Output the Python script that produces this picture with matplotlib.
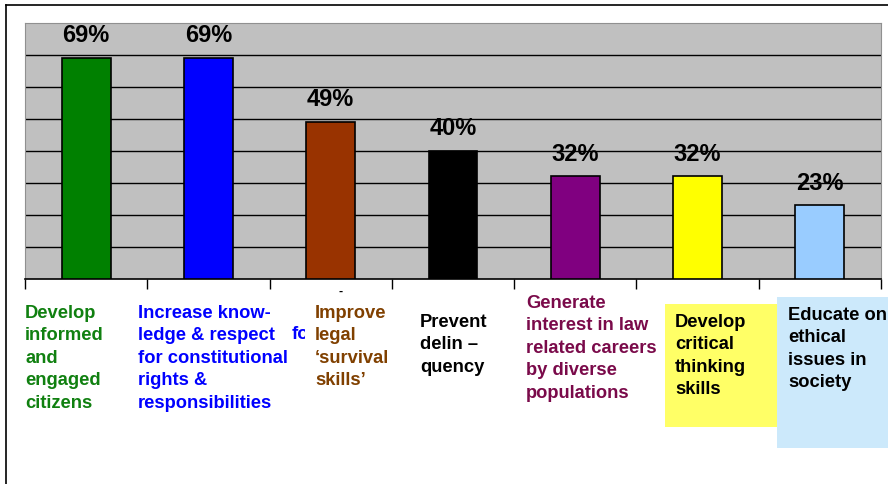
import matplotlib.pyplot as plt
from matplotlib.patches import Rectangle
from matplotlib.lines import Line2D

plt.rcParams['font.family'] = ['Liberation Sans', 'DejaVu Sans']

# datos
categorias = ["Develop\ninformed\nand\nengaged\ncitizens",
              "Increase know-\nledge & respect\nfor constitutional\nrights &\nresponsibilities",
              "Improve\nlegal\n\u2018survival\nskills\u2019",
              "Prevent\ndelin \u2013\nquency",
              "Generate\ninterest in law\nrelated careers\nby diverse\npopulations",
              "Develop\ncritical\nthinking\nskills",
              "Educate on\nethical\nissues in\nsociety"]
valores = [69, 69, 49, 40, 32, 32, 23]
colores = ['#008000', '#0000ff', '#993300', '#000000', '#800080', '#ffff00', '#99ccff']
colores_texto = ['#108010', '#0000ff', '#804000', '#000000', '#7a0a4a', '#000000', '#000000']

W, H = 888, 485
fig = plt.figure(figsize=(W / 100, H / 100), dpi=100)

def fx(px):
    return px / W

def fy(py):
    return 1 - py / H

# marco exterior
fig.add_artist(Line2D([fx(6), 1], [fy(5.5), fy(5.5)], color='black', lw=1.2))
fig.add_artist(Line2D([fx(6), fx(6)], [fy(5.5), 0], color='black', lw=1.2))

ax = fig.add_axes([fx(25), fy(280), fx(881) - fx(25), fy(23.5) - fy(280)])
ax.set_facecolor('#c0c0c0')
x = range(len(valores))
ax.bar(x, valores, width=0.4, color=colores, edgecolor='black', linewidth=1.2, zorder=3)
ax.set_xlim(-0.5, len(valores) - 0.5)
ax.set_ylim(0, 80)
ax.set_yticks(range(10, 80, 10))
ax.yaxis.grid(True, color='black', linewidth=1)
ax.tick_params(axis='y', length=0, labelleft=False)
ax.set_xticks([i - 0.5 for i in range(len(valores) + 1)])
ax.tick_params(axis='x', direction='out', length=7, width=1, labelbottom=False)
for lado in ['top', 'left', 'right']:
    ax.spines[lado].set_color('#909090')
ax.spines['bottom'].set_color('black')
ax.spines['bottom'].set_linewidth(1.2)

for i, v in enumerate(valores):
    ax.annotate(f"{v}%", (i, v), xytext=(0, 12), textcoords='offset points',
                ha='center', va='baseline', fontsize=17, fontweight='bold')

# cajas de color detras de las etiquetas
fig.add_artist(Rectangle((fx(665), fy(428)), fx(778) - fx(665), fy(305) - fy(428),
                         transform=fig.transFigure, facecolor='#ffff66', edgecolor='none'))
fig.add_artist(Rectangle((fx(777), fy(449)), 1 - fx(777), fy(298) - fy(449),
                         transform=fig.transFigure, facecolor='#cce9fb', edgecolor='none'))

# texto cortado detras de la etiqueta 3
fig.text(fx(292), fy(326), "for", color='#0000ff', fontsize=13.2, fontweight='bold', va='top')
fig.add_artist(Rectangle((fx(305), fy(400)), fx(400) - fx(305), fy(300) - fy(400),
                         transform=fig.transFigure, facecolor='white', edgecolor='none',
                         zorder=3.5))
fig.text(fx(338), fy(286), "-", color='black', fontsize=9, fontweight='bold', va='top')

posiciones = [(25, 305), (138, 305), (315, 305), (420, 314), (526, 295), (675, 314), (788, 307)]
for (px, py), txt, c in zip(posiciones, categorias, colores_texto):
    fig.text(fx(px), fy(py), txt, color=c, fontsize=13.2, fontweight='bold',
             ha='left', va='top', linespacing=1.42, zorder=4)

fig.savefig('out.png', dpi=100)
